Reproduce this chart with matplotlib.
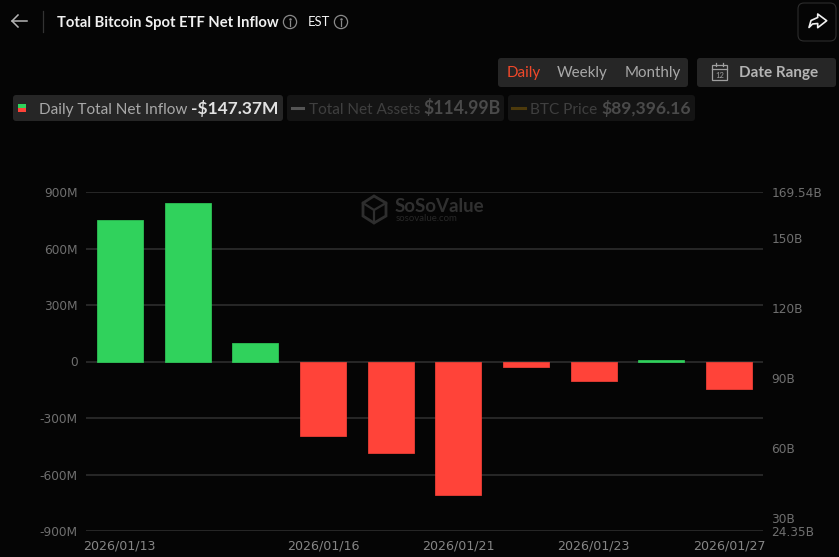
import matplotlib
matplotlib.use('Agg')
import matplotlib.pyplot as plt
from matplotlib.patches import FancyBboxPatch, Polygon, Rectangle

plt.rcParams['font.family'] = ['Lato', 'DejaVu Sans']

W, H = 839, 557
BG = '#050505'
GREEN = '#30d25c'
RED = '#ff4339'

dates = ['2026/01/13', '2026/01/14', '2026/01/15', '2026/01/16', '2026/01/20',
         '2026/01/21', '2026/01/22', '2026/01/23', '2026/01/26', '2026/01/27']
net_inflow = [753.8, 840.6, 100.2, -394.7, -483.4, -708.7, -29, -102, 6.8, -147.4]
shown_dates = [0, 3, 5, 7, 9]
left_ticks = [-900, -600, -300, 0, 300, 600, 900]
left_labels = ['-900M', '-600M', '-300M', '0', '300M', '600M', '900M']
right_ticks = [24.35, 30, 60, 90, 120, 150, 169.54]
right_labels = ['24.35B', '30B', '60B', '90B', '120B', '150B', '169.54B']

fig = plt.figure(figsize=(W / 100, H / 100), dpi=100, facecolor=BG)

# page furniture, drawn in pixel coords with y going down
ui = fig.add_axes([0, 0, 1, 1], zorder=3)
ui.set_xlim(0, W)
ui.set_ylim(H, 0)
ui.axis('off')


def box(x, y, w, h, color, edge='none', r=3):
    ui.add_patch(FancyBboxPatch((x + r, y + r), w - 2 * r, h - 2 * r,
                                boxstyle='round,pad=%d' % r, fc=color, ec=edge, lw=0.8))


def label(x, y, s, color, size=10.6, weight='normal'):
    return ui.text(x, y, s, color=color, fontsize=size, fontweight=weight, ha='left', va='baseline')


def info_icon(x, y, color='#8a8a8a'):
    ui.add_patch(plt.Circle((x, y), 6.6, fc='none', ec=color, lw=0.9))
    ui.plot([x, x], [y - 1, y + 3.5], color=color, lw=0.9)
    ui.plot([x], [y - 3], '.', color=color, ms=1.6)


# header
ui.plot([12, 27], [21, 21], color='#b5b5b5', lw=1.1)
ui.plot([18, 12, 18], [15, 21, 27], color='#b5b5b5', lw=1.1)
ui.plot([43, 43], [11, 32], color='#333333', lw=0.9)
label(57, 26.5, 'Total Bitcoin Spot ETF Net Inflow', '#f0f0f0', 10.6, 'bold')
info_icon(290, 22)
label(308, 26, 'EST', '#f5f5f5', 9.4)
info_icon(341, 22)
box(798, 3, 38, 38, BG, '#2c2c2c', r=6)
ui.add_patch(Polygon([[809, 27.5], [811, 20.5], [817.7, 17.5], [817.7, 14], [826.7, 20.7],
                      [817.7, 27.7], [817.7, 23.5], [812.5, 24]],
                     fc='none', ec='#f0f0f0', lw=1.2, joinstyle='round'))

# period switch and date range
box(498, 58, 190, 29, '#262626')
label(507, 77.5, 'Daily', '#f0482a', 10.9)
label(557, 77.5, 'Weekly', '#a8a8a8', 10.9)
label(624.5, 77.5, 'Monthly', '#a8a8a8', 10.9)
box(697, 58, 139, 29, '#262626')
ui.add_patch(Rectangle((712, 65), 15, 15, fc='none', ec='#a0a0a0', lw=0.9))
ui.plot([712, 727], [69, 69], color='#a0a0a0', lw=0.9)
ui.plot([716, 716], [63, 66], color='#a0a0a0', lw=0.9)
ui.plot([723, 723], [63, 66], color='#a0a0a0', lw=0.9)
ui.text(719.5, 75, '12', color='#a0a0a0', fontsize=5.5, ha='center', va='center')
label(739, 77.5, 'Date Range', '#b4b4b4', 11.0, 'bold')

# legend chips
box(13, 95, 270, 26, '#262626')
ui.add_patch(Rectangle((18, 104), 8, 4, fc=GREEN))
ui.add_patch(Rectangle((18, 108), 8, 4, fc=RED))
label(39, 114, 'Daily Total Net Inflow', '#a8a8a8', 11.1)
label(191, 114, '-$147.37M', '#e2e2e2', 12.5, 'bold')
box(287, 95, 217, 26, '#141414')
ui.plot([292, 303], [108, 108], color='#555555', lw=2.2)
label(309, 114, 'Total Net Assets', '#3f3f3f', 11.1)
label(423, 114, '$114.99B', '#4a4a4a', 12.7, 'bold')
box(508, 95, 187, 26, '#141414')
ui.plot([512, 525], [108, 108], color='#4d3a0c', lw=2.2)
label(530, 114, 'BTC Price', '#3f3f3f', 11.1)
label(601, 114, '$89,396.16', '#4a4a4a', 12.6, 'bold')

# watermark
ui.add_patch(Polygon([[374, 196], [386, 203], [386, 216], [374, 223], [363, 216], [363, 203]],
                     fc='none', ec='#2e2e2e', lw=2))
ui.plot([363, 374, 386], [203, 210, 203], color='#2e2e2e', lw=1.6)
ui.plot([374, 374], [210, 223], color='#2e2e2e', lw=1.6)
label(395, 212, 'SoSoValue', '#303030', 13.5, 'bold')
label(396, 221, 'sosovalue.com', '#282828', 6.9)

# chart
left, right, top, bottom = 86, 763, 192, 531
ax = fig.add_axes([left / W, 1 - bottom / H, (right - left) / W, (bottom - top) / H], zorder=1)
ax.set_facecolor('none')
colors = [GREEN if v >= 0 else RED for v in net_inflow]
ax.bar(range(len(dates)), net_inflow, width=0.68, color=colors, edgecolor=colors,
       linewidth=0.5, joinstyle='round', zorder=3)
ax.set_xlim(-0.5, len(dates) - 0.5)
ax.set_ylim(-900, 900)
ax.set_yticks(left_ticks, left_labels, family='DejaVu Sans')
ax.set_xticks(shown_dates, [dates[i] for i in shown_dates], family='DejaVu Sans')
ax.grid(axis='y', color='#2d2d2d', lw=1.2, zorder=0)
ax.tick_params(axis='y', length=0, colors='#6f6f6f', labelsize=8.7, pad=6)
ax.tick_params(axis='x', length=0, colors='#858585', labelsize=9.1, pad=6)
for s in ax.spines.values():
    s.set_visible(False)

ax2 = ax.twinx()
ax2.set_ylim(24.35, 169.54)
ax2.set_yticks(right_ticks, right_labels, family='DejaVu Sans')
ax2.tick_params(length=0, colors='#6f6f6f', labelsize=8.7, pad=6)
for s in ax2.spines.values():
    s.set_visible(False)

fig.savefig('out.png', dpi=100, facecolor=BG)
